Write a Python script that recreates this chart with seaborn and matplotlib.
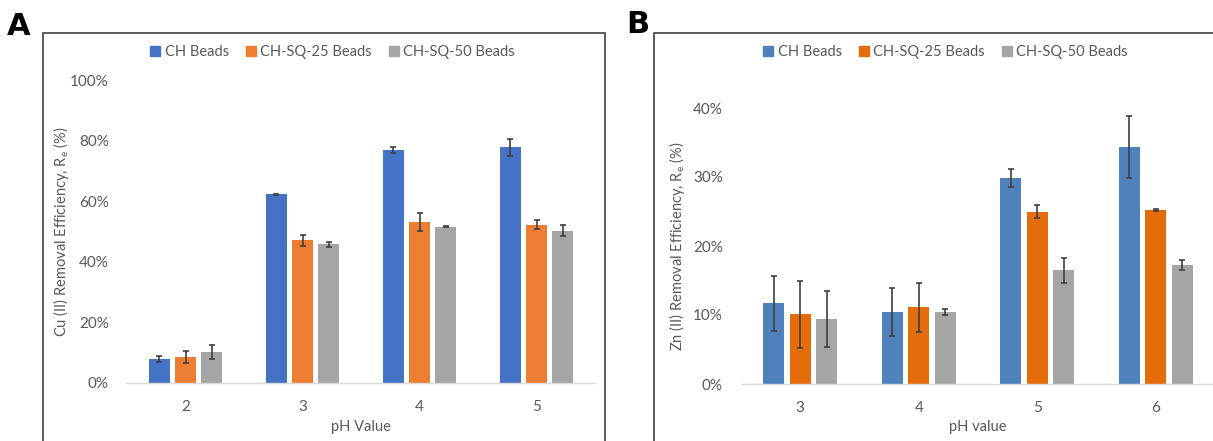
import numpy as np
import pandas as pd
import matplotlib
matplotlib.use("Agg")
import matplotlib.pyplot as plt
from matplotlib.patches import Rectangle
from matplotlib.ticker import PercentFormatter, MultipleLocator
from matplotlib.lines import Line2D
import seaborn as sns

# ---- data -------------------------------------------------------------
series_names = ["CH Beads", "CH-SQ-25 Beads", "CH-SQ-50 Beads"]

cu_ph = ["2", "3", "4", "5"]
cu_ch = [7.9, 62.3, 76.9, 77.8]
cu_ch_err = [1.0, 0.2, 1.0, 2.8]
cu_sq25 = [8.6, 47.1, 53.1, 52.3]
cu_sq25_err = [1.9, 1.8, 2.9, 1.4]
cu_sq50 = [10.2, 45.8, 51.6, 50.3]
cu_sq50_err = [2.2, 0.8, 0.2, 1.9]

zn_ph = ["3", "4", "5", "6"]
zn_ch = [11.7, 10.4, 29.8, 34.3]
zn_ch_err = [4.0, 3.5, 1.3, 4.5]
zn_sq25 = [10.1, 11.1, 25.0, 25.2]
zn_sq25_err = [4.9, 3.6, 1.0, 0.1]
zn_sq50 = [9.4, 10.4, 16.5, 17.2]
zn_sq50_err = [4.1, 0.4, 1.8, 0.7]

cu_colors = ["#4472C4", "#ED7D31", "#A5A5A5"]
zn_colors = ["#4F81BD", "#E46C0A", "#A5A5A5"]

# ---- styling ----------------------------------------------------------
sns.set_theme(style="white")
plt.rcParams["font.family"] = ["Lato", "DejaVu Sans"]
TXT = "#595959"

W, H = 1213, 441
fig = plt.figure(figsize=(W / 100, H / 100), dpi=100)


def px_axes(x0, x1, y_top, y_bot):
    return fig.add_axes([x0 / W, 1 - y_bot / H, (x1 - x0) / W, (y_bot - y_top) / H])


def panel(ax, ph, vals, errs, colors, ymax, ystep, ylabel, xlabel, ylab_x, xlab_y):
    df = pd.DataFrame({
        "pH": [p for s in series_names for p in ph],
        "series": [s for s in series_names for _ in ph],
        "value": [v for vs in vals for v in vs],
    })
    sns.barplot(data=df, x="pH", y="value", hue="series", hue_order=series_names,
                order=ph, palette=colors, width=0.667, gap=0.2, errorbar=None,
                saturation=1, legend=False, ax=ax, edgecolor="none")
    for cont, err in zip(ax.containers, errs):
        xs = [b.get_x() + b.get_width() / 2 for b in cont]
        ys = [b.get_height() for b in cont]
        ax.errorbar(xs, ys, yerr=err, fmt="none", ecolor="#404040",
                    elinewidth=1.2, capsize=2.2, capthick=1.2, zorder=5)
    ax.set_ylim(0, ymax)
    ax.set_xlim(-0.5, len(ph) - 0.5)
    ax.yaxis.set_major_locator(MultipleLocator(ystep))
    ax.yaxis.set_major_formatter(PercentFormatter(xmax=100, decimals=0))
    for side in ["top", "right", "left"]:
        ax.spines[side].set_visible(False)
    ax.spines["bottom"].set_color("#D9D9D9")
    ax.spines["bottom"].set_linewidth(1.0)
    ax.tick_params(axis="both", length=0, colors=TXT, labelsize=11)
    ax.tick_params(axis="x", pad=12)
    ax.tick_params(axis="y", pad=13)
    ax.set_ylabel(ylabel, color=TXT, fontsize=10.5)
    ax.set_xlabel(xlabel, color=TXT, fontsize=10.5)
    ax.yaxis.set_label_coords(ylab_x, 0.5)
    ax.xaxis.set_label_coords(0.5, xlab_y)
    ax.patch.set_alpha(0)


# ---- panel A : Cu(II) -------------------------------------------------
axA = px_axes(127, 595, 80, 383)
panel(axA, cu_ph, [cu_ch, cu_sq25, cu_sq50], [cu_ch_err, cu_sq25_err, cu_sq50_err],
      cu_colors, 100, 20, r"Cu (II) Removal Efficiency, R$_\mathregular{e}$ (%)", "pH Value",
      -0.12, -0.122)

# ---- panel B : Zn(II) -------------------------------------------------
axB = px_axes(741, 1215, 108, 384)
panel(axB, zn_ph, [zn_ch, zn_sq25, zn_sq50], [zn_ch_err, zn_sq25_err, zn_sq50_err],
      zn_colors, 40, 10, r"Zn (II) Removal Efficiency, R$_\mathregular{e}$ (%)", "pH value",
      -0.114, -0.130)

# ---- chart frames, legends and panel letters --------------------------
for x0, x1 in [(42.7, 605), (654, 1240)]:
    fig.patches.append(Rectangle((x0 / W, -0.1), (x1 - x0) / W, 1.1 - 33 / H,
                                 transform=fig.transFigure, fill=False,
                                 edgecolor="#404040", linewidth=1.2, zorder=0))


def legend(colors, cx):
    handles = [Line2D([], [], marker="s", linestyle="none", markersize=6.5,
                      markerfacecolor=c, markeredgecolor=c) for c in colors]
    fig.legend(handles, series_names, loc="center", ncol=3, frameon=False,
               bbox_to_anchor=(cx / W, 1 - 52 / H), fontsize=10.5, labelcolor=TXT,
               handletextpad=0.25, columnspacing=1.1, handlelength=0.8)


legend(cu_colors, 332)
legend(zn_colors, 945)

fig.text(7 / W, 1 - 35 / H, "A", fontsize=22, fontweight="heavy", color="black",
         ha="left", va="baseline", family="DejaVu Sans")
fig.text(626 / W, 1 - 33 / H, "B", fontsize=22, fontweight="heavy", color="black",
         ha="left", va="baseline", family="DejaVu Sans")

fig.savefig("out.png", dpi=100, facecolor="white")
